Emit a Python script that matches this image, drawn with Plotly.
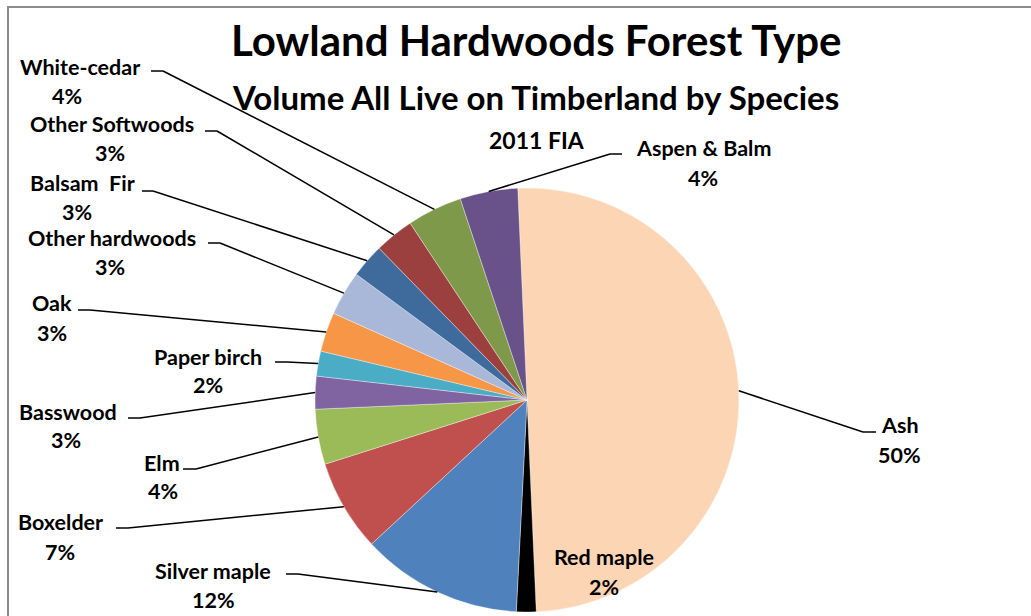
import math
import plotly.graph_objects as go

# ---- data ----
species = ["Ash", "Red maple", "Silver maple", "Boxelder", "Elm", "Basswood",
           "Paper birch", "Oak", "Other hardwoods", "Balsam  Fir",
           "Other Softwoods", "White-cedar", "Aspen & Balm"]
volume_pct = [50.0, 1.5, 12.3, 7.0, 4.2, 2.5, 1.9, 3.0, 3.4, 2.6, 3.0, 4.2, 4.4]
pct_labels = ["50%", "2%", "12%", "7%", "4%", "3%", "2%", "3%", "3%", "3%",
              "3%", "4%", "4%"]
colors = ["#FCD5B5", "#000000", "#4F81BD", "#C0504D", "#9BBB59", "#8064A2",
          "#4BACC6", "#F79646", "#A9B8D8", "#3E6A9C", "#9B403E", "#7F994A",
          "#69518A"]

title = "Lowland Hardwoods Forest Type"
subtitle = "Volume All Live on Timberland by Species"
subtitle2 = "2011 FIA"

# ---- layout geometry (pixels) ----
W, H = 1031, 616
CX, CY, R = 527, 400, 212
ROT = -2.5
# label placement: (name_x, name_y, pct_x, pct_y, tick_x0, tick_x1, tick_y)
label_pos = {
    "Ash":             (900, 425, 899, 455, 876, 863, 432),
    "Red maple":       (604, 557, 604, 587, None, None, None),
    "Silver maple":    (213, 571, 213, 600, 286, 298, 574),
    "Boxelder":        (60, 522, 60, 552, 116, 128, 528),
    "Elm":             (162, 463, 163, 491, 183, 196, 469),
    "Basswood":        (68, 412, 66, 440, 128, 140, 418),
    "Paper birch":     (208, 357, 208, 385, 275, 287, 362),
    "Oak":             (52, 303, 52, 333, 78, 90, 310),
    "Other hardwoods": (112, 238, 110, 267, 208, 220, 243),
    "Balsam  Fir":     (82, 183, 77, 212, 142, 153, 191),
    "Other Softwoods": (112, 124, 110, 153, 205, 217, 131),
    "White-cedar":     (80, 67, 67, 96, 151, 163, 71),
    "Aspen & Balm":    (703, 148, 703, 178, 622, 610, 154),
}

FONT = "Lato"
LBL = dict(family=FONT, size=21.5, color="black", weight="bold")


def px(x):
    return x / W


def py(y):
    return 1 - y / H


fig = go.Figure()
fig.add_trace(go.Pie(
    labels=species, values=volume_pct, sort=False, direction="clockwise",
    rotation=ROT, textinfo="none", hoverinfo="label+percent",
    marker=dict(colors=colors, line=dict(color="rgba(255,255,255,0.6)", width=0.6)),
    domain=dict(x=[px(CX - R), px(CX + R)], y=[py(CY + R), py(CY - R)]),
    showlegend=False,
))

annotations = []
shapes = []
total = sum(volume_pct)
cum = 0.0
for name, v, pl in zip(species, volume_pct, pct_labels):
    mid = math.radians(ROT + (cum + v / 2) / total * 360)
    cum += v
    ex, ey = CX + R * math.sin(mid), CY - R * math.cos(mid)
    nx, ny, qx, qy, t0, t1, ty = label_pos[name]
    annotations.append(dict(x=px(nx), y=py(ny), xref="paper", yref="paper",
                            text=name, showarrow=False, xanchor="center",
                            yanchor="middle", font=LBL))
    annotations.append(dict(x=px(qx), y=py(qy), xref="paper", yref="paper",
                            text=pl, showarrow=False, xanchor="center",
                            yanchor="middle", font=LBL))
    if t0 is not None:
        shapes.append(dict(type="line", xref="paper", yref="paper",
                           x0=px(t0), y0=py(ty), x1=px(t1), y1=py(ty),
                           line=dict(color="black", width=1.5)))
        shapes.append(dict(type="line", xref="paper", yref="paper",
                           x0=px(t1), y0=py(ty), x1=px(ex), y1=py(ey),
                           line=dict(color="black", width=1.5)))

annotations += [
    dict(x=px(536), y=py(40), xref="paper", yref="paper", text=title,
         showarrow=False, xanchor="center", yanchor="middle",
         font=dict(family=FONT, size=42, color="black", weight="bold")),
    dict(x=px(535), y=py(97), xref="paper", yref="paper", text=subtitle,
         showarrow=False, xanchor="center", yanchor="middle",
         font=dict(family=FONT, size=33, color="black", weight="bold")),
    dict(x=px(537), y=py(140), xref="paper", yref="paper", text=subtitle2,
         showarrow=False, xanchor="center", yanchor="middle",
         font=dict(family=FONT, size=23, color="black", weight="bold")),
]

# chart-area border
shapes.append(dict(type="rect", xref="paper", yref="paper",
                   x0=px(8), y0=py(H + 5), x1=px(W + 5), y1=py(7),
                   line=dict(color="#8C8C8C", width=2), layer="below"))

fig.update_layout(
    width=W, height=H, margin=dict(l=0, r=0, t=0, b=0),
    paper_bgcolor="white", plot_bgcolor="white",
    annotations=annotations, shapes=shapes,
)

fig.write_html("out.html", config={"displayModeBar": False},
               post_script="document.body.style.margin='0';"
                           "document.body.style.overflow='hidden';")
